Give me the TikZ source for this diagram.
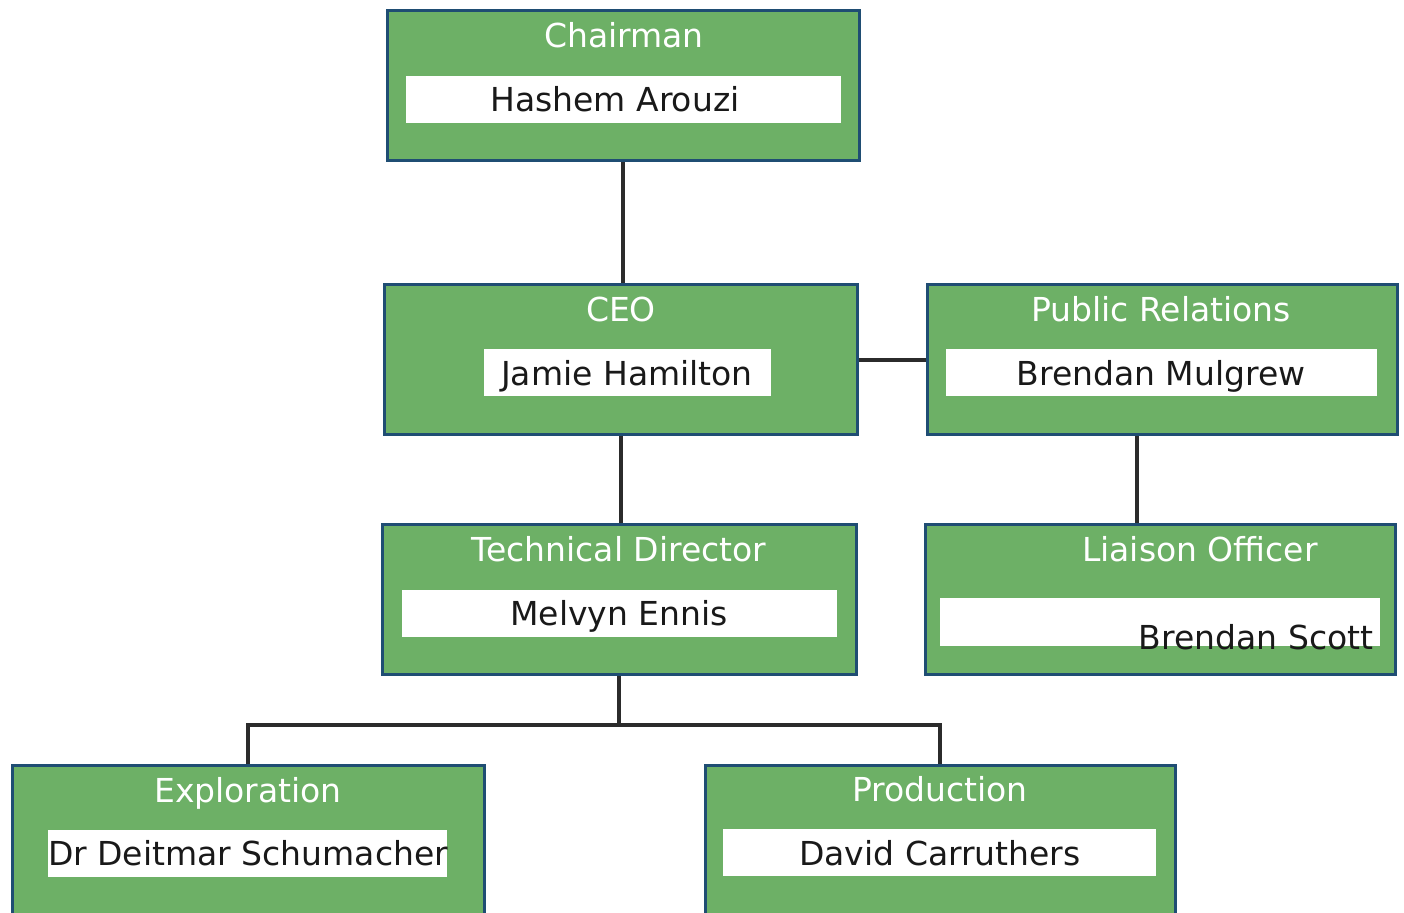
\documentclass[tikz,border=0pt]{standalone}
\usepackage{fontspec}
\setmainfont{DejaVu Sans}
\definecolor{boxgreen}{HTML}{6DB066}
\definecolor{boxedge}{HTML}{1F4D73}
\definecolor{linegray}{HTML}{2B2B2B}
\begin{document}
\begin{tikzpicture}[x=0.5pt,y=-0.5pt,
  orgbox/.style={draw=boxedge,line width=1.5pt,fill=boxgreen,minimum height=75pt,inner sep=0pt},
  namebox/.style={fill=white,draw=none,minimum height=23.5pt,inner sep=0pt},
  titletext/.style={text=white,anchor=base,inner sep=0pt,font=\fontsize{16.5}{19}\selectfont},
  nametext/.style={text=black!90,anchor=base,inner sep=0pt,font=\fontsize{16.5}{19}\selectfont},
  link/.style={draw=linegray,line width=1.7pt}]
\useasboundingbox (0,0) rectangle (1404,913);
\fill[white] (0,0) rectangle (1404,913);
\clip (0,0) rectangle (1404,913);
% boxes
\node[orgbox,minimum width=236pt] (ch) at (623,86) {};
\node[orgbox,minimum width=236.5pt] (ceo) at (620.5,360) {};
\node[orgbox,minimum width=235pt] (pr) at (1162,360) {};
\node[orgbox,minimum width=237pt] (td) at (619,600) {};
\node[orgbox,minimum width=235pt] (lo) at (1160,600) {};
\node[orgbox,minimum width=236pt] (ex) at (248,841) {};
\node[orgbox,minimum width=235pt] (pd) at (940,841) {};
% white name boxes
\node[namebox,minimum width=217.5pt] (chn) at (623.5,99.5) {};
\node[namebox,minimum width=143.5pt] (ceon) at (627.5,372.5) {};
\node[namebox,minimum width=215.5pt] (prn) at (1161.5,372.5) {};
\node[namebox,minimum width=217.5pt] (tdn) at (619.5,613.5) {};
\node[namebox,minimum width=220pt,minimum height=24pt] (lon) at (1160,622) {};
\node[namebox,minimum width=199.5pt] (exn) at (247.5,853.5) {};
\node[namebox,minimum width=216.5pt] (pdn) at (939.5,853) {};
% titles
\node[titletext] (cht) at (624,48) {Chairman};
\node[titletext] (ceot) at (621,322) {CEO};
\node[titletext] (prt) at (1161,322) {Public Relations};
\node[titletext] (tdt) at (619,562) {Technical Director};
\node[titletext] (lot) at (1200,562) {Liaison Officer};
\node[titletext] (ext) at (248,803) {Exploration};
\node[titletext] (pdt) at (940,802) {Production};
% names
\node[nametext] (chx) at (615,112) {Hashem Arouzi};
\node[nametext] (ceox) at (627,386) {Jamie Hamilton};
\node[nametext] (prx) at (1161,386) {Brendan Mulgrew};
\node[nametext] (tdx) at (619,626) {Melvyn Ennis};
\node[nametext] (lox) at (1256,650) {Brendan Scott};
\node[nametext] (exx) at (248,866) {Dr Deitmar Schumacher};
\node[nametext] (pdx) at (940,866) {David Carruthers};
% connectors
\coordinate (j) at (619,725);
\draw[link] (ch.south) -- (ch.south |- ceo.north);
\draw[link] (ceo.east) -- (pr.west);
\draw[link] ([xshift=0.25pt]ceo.south) -- ([xshift=0.25pt]ceo.south |- td.north);
\draw[link] ([xshift=-12.5pt]pr.south) -- ([xshift=-12.5pt]pr.south |- lo.north);
\draw[link] (td.south) -- (j);
\draw[link] (ex.north) |- (j) -| (pd.north);
\end{tikzpicture}
\end{document}
